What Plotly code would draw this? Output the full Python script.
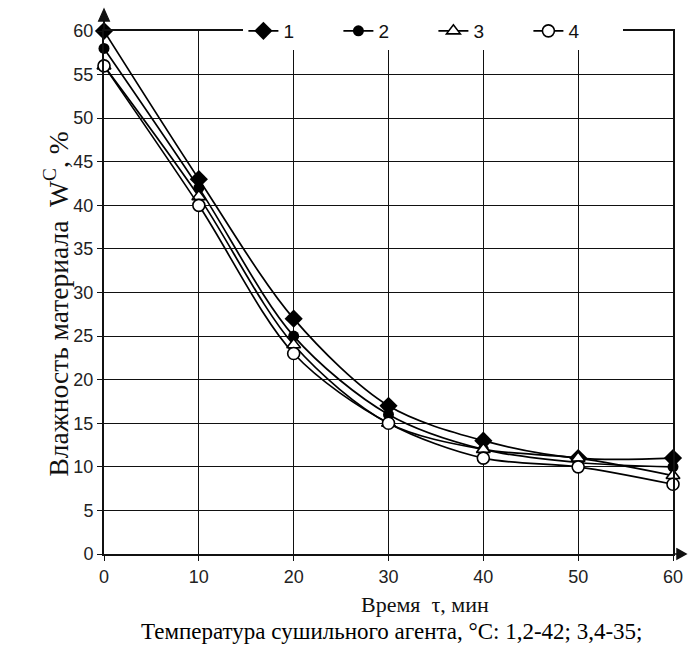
import plotly.graph_objects as go

time_min = [0, 10, 20, 30, 40, 50, 60]
s1 = [60, 43, 27, 17, 13, 11, 11]
s2 = [58, 42, 25, 16, 12, 10.5, 10]
s3 = [56, 41, 24, 15, 12, 11, 9]
s4 = [56, 40, 23, 15, 11, 10, 8]
names = ["1", "2", "3", "4"]
y_ticks = list(range(0, 61, 5))
x_ticks = list(range(0, 61, 10))

series = [s1, s2, s3, s4]
markers = [
    dict(symbol="diamond", size=14, color="black"),
    dict(symbol="circle", size=11, color="black"),
    dict(symbol="triangle-up", size=12, color="white", line=dict(color="black", width=1.6)),
    dict(symbol="circle", size=12, color="white", line=dict(color="black", width=1.6)),
]

fig = go.Figure()
for name, ys, mk in zip(names, series, markers):
    fig.add_trace(go.Scatter(
        x=time_min, y=ys, name=name, mode="lines+markers",
        line=dict(color="black", width=1.7, shape="spline", smoothing=0.9),
        marker=mk, cliponaxis=False,
    ))

axis_font = dict(family="Liberation Sans, Arial", size=18, color="#222")
fig.update_layout(
    width=695, height=655,
    margin=dict(l=104, r=14, t=26, b=101),
    plot_bgcolor="white", paper_bgcolor="white",
    showlegend=True,
    legend=dict(orientation="h", x=0.245, y=1.0, xanchor="left", yanchor="middle",
                bgcolor="white", font=dict(family="Liberation Sans, Arial", size=19, color="#111"),
                entrywidth=50, entrywidthmode="pixels", tracegroupgap=0, traceorder="normal"),
    xaxis=dict(range=[0, 60], tickvals=x_ticks, showgrid=True, gridcolor="#111", gridwidth=1.3,
               showline=True, linecolor="#111", linewidth=2, mirror=True,
               ticks="outside", ticklen=5, tickcolor="#111", tickfont=axis_font, zeroline=False),
    yaxis=dict(range=[0, 60], tickvals=y_ticks, showgrid=True, gridcolor="#111", gridwidth=1.3,
               showline=True, linecolor="#111", linewidth=2, mirror=True,
               ticks="outside", ticklen=5, tickcolor="#111", tickfont=axis_font, zeroline=False),
)

serif = "Liberation Serif, Times New Roman"
fig.add_annotation(xref="paper", yref="paper", x=0, y=0.5, xshift=-47, yshift=-12,
                   text="Влажность материала  W<sup>C</sup>, %", textangle=-90, showarrow=False,
                   font=dict(family=serif, size=27.5, color="#111"), xanchor="center", yanchor="middle")
fig.add_annotation(xref="paper", yref="paper", x=0.5, y=0, xshift=36, yshift=-50,
                   text="Время  τ, мин", showarrow=False,
                   font=dict(family=serif, size=22, color="#111"), xanchor="center", yanchor="middle")
fig.add_annotation(xref="paper", yref="paper", x=0.5, y=0, xshift=3, yshift=-77,
                   text="Температура сушильного агента, °С: 1,2-42; 3,4-35;", showarrow=False,
                   font=dict(family=serif, size=23, color="#000"), xanchor="center", yanchor="middle")
# axis arrowheads
fig.add_shape(type="path", xref="paper", yref="paper", xsizemode="pixel", ysizemode="pixel",
              xanchor=1, yanchor=0, path="M 0,0 L 4,0 M 4,5 L 13,0 L 4,-5 Z",
              fillcolor="#111", line=dict(color="#111", width=1.5))
fig.add_shape(type="line", xref="paper", yref="paper", x0=0, x1=0, y0=1.0, y1=1.02,
              line=dict(color="#111", width=2))
fig.add_shape(type="path", xref="paper", yref="paper",
              path="M -0.0095,1.019 L 0.0095,1.019 L 0,1.042 Z",
              fillcolor="#111", line=dict(color="#111", width=1.2))

fig.write_html("out.html")
